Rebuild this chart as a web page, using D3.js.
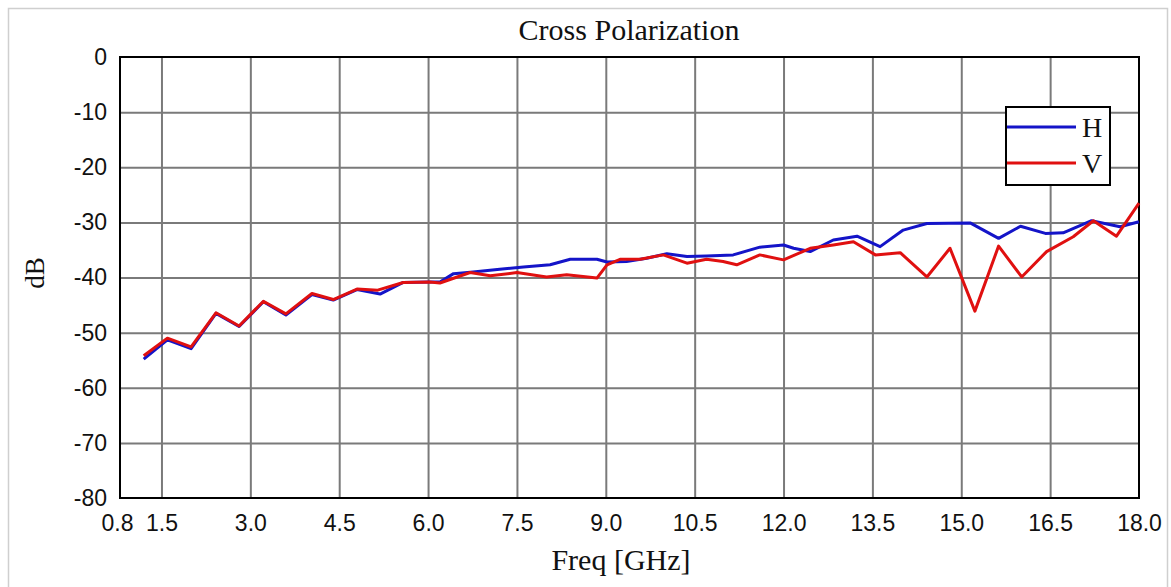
<!DOCTYPE html>
<html>
<head>
<meta charset="utf-8">
<script src="https://cdn.jsdelivr.net/npm/d3@7"></script>
<style>
  html, body { margin: 0; padding: 0; background: #ffffff; }
  svg { display: block; }
</style>
</head>
<body>
<svg id="chart" width="1171" height="587"></svg>
<script>
// ---- Data ----
const title = "Cross Polarization";
const xLabel = "Freq [GHz]";
const yLabel = "dB";
const seriesNames = ["H", "V"];
const xTicks = [0.8, 1.5, 3.0, 4.5, 6.0, 7.5, 9.0, 10.5, 12.0, 13.5, 15.0, 16.5, 18.0];
const yTicks = [0, -10, -20, -30, -40, -50, -60, -70, -80];

const freqH = [1.2, 1.6, 2.0, 2.42, 2.81, 3.22, 3.6, 4.04, 4.4, 4.8, 5.19, 5.58, 6.03, 6.2, 6.43, 6.76,
  7.21, 7.61, 8.06, 8.4, 8.85, 9.02, 9.35, 9.69, 10.03, 10.37, 10.7, 11.15, 11.6, 12.0, 12.17, 12.45,
  12.84, 13.24, 13.63, 14.02, 14.42, 15.15, 15.63, 16.0, 16.42, 16.72, 17.2, 17.68, 18.0];
const valuesH = [-54.8, -51.3, -52.9, -46.5, -48.9, -44.4, -46.8, -43.1, -44.1, -42.2, -43.0, -40.9, -40.8, -40.8, -39.3, -39.0,
  -38.5, -38.1, -37.7, -36.7, -36.7, -37.2, -37.1, -36.5, -35.7, -36.2, -36.1, -35.9, -34.5, -34.1, -34.7, -35.3,
  -33.2, -32.5, -34.4, -31.4, -30.2, -30.1, -32.9, -30.7, -32.0, -31.9, -29.7, -30.8, -29.9];

const freqV = [1.2, 1.6, 2.0, 2.42, 2.81, 3.22, 3.6, 4.04, 4.4, 4.8, 5.15, 5.58, 6.03, 6.2, 6.71, 7.05,
  7.5, 8.0, 8.34, 8.85, 9.02, 9.24, 9.58, 9.97, 10.37, 10.7, 10.98, 11.21, 11.6, 12.0, 12.45, 12.84,
  13.18, 13.55, 13.97, 14.42, 14.81, 15.23, 15.63, 16.02, 16.44, 16.89, 17.23, 17.62, 18.0];
const valuesV = [-54.2, -51.0, -52.6, -46.4, -48.8, -44.3, -46.6, -42.9, -44.0, -42.1, -42.3, -40.9, -40.8, -41.0, -39.1, -39.7,
  -39.1, -39.9, -39.5, -40.1, -37.7, -36.7, -36.7, -35.9, -37.4, -36.7, -37.1, -37.7, -35.9, -36.8, -34.7, -34.1,
  -33.5, -35.9, -35.5, -39.9, -34.7, -46.1, -34.3, -39.9, -35.3, -32.6, -29.7, -32.5, -26.5];

const colors = ["#1414c8", "#e01010"];

// ---- Layout ----
const svg = d3.select("#chart");
const plot = { left: 120, right: 1139, top: 57, bottom: 498 };

const x = d3.scaleLinear().domain([0.8, 18.0]).range([plot.left, plot.right]);
const y = d3.scaleLinear().domain([-80, 0]).range([plot.bottom, plot.top]);

// outer frame
svg.append("rect")
  .attr("x", 8.5).attr("y", 8.5).attr("width", 1159).attr("height", 600)
  .attr("fill", "none").attr("stroke", "#cfcfcf").attr("stroke-width", 1.5);

// grid via axes
const gridX = d3.axisBottom(x).tickValues(xTicks.slice(1, -1)).tickSize(-(plot.bottom - plot.top)).tickFormat("");
svg.append("g").attr("transform", `translate(0,${plot.bottom})`).call(gridX)
  .call(g => g.select(".domain").remove())
  .call(g => g.selectAll("line").attr("stroke", "#7a7a7a").attr("stroke-width", 2));

const gridY = d3.axisLeft(y).tickValues(yTicks.slice(1, -1)).tickSize(-(plot.right - plot.left)).tickFormat("");
svg.append("g").attr("transform", `translate(${plot.left},0)`).call(gridY)
  .call(g => g.select(".domain").remove())
  .call(g => g.selectAll("line").attr("stroke", "#7a7a7a").attr("stroke-width", 2));

// tick labels via axes
const axX = d3.axisBottom(x).tickValues(xTicks).tickSize(0).tickPadding(17).tickFormat(d3.format(".1f"));
svg.append("g").attr("transform", `translate(0,${plot.bottom})`).call(axX)
  .call(g => g.select(".domain").remove())
  .call(g => g.selectAll("text")
    .attr("font-family", "'Liberation Sans', Arial, sans-serif")
    .attr("font-size", 23).attr("fill", "#111")
    .attr("dx", d => d === 0.8 ? -3 : 0));

const axY = d3.axisLeft(y).tickValues(yTicks).tickSize(0).tickPadding(13).tickFormat(d => String(d));
svg.append("g").attr("transform", `translate(${plot.left},0)`).call(axY)
  .call(g => g.select(".domain").remove())
  .call(g => g.selectAll("text")
    .attr("font-family", "'Liberation Sans', Arial, sans-serif")
    .attr("font-size", 23).attr("fill", "#111"));

// plot border
svg.append("rect")
  .attr("x", plot.left).attr("y", plot.top)
  .attr("width", plot.right - plot.left).attr("height", plot.bottom - plot.top)
  .attr("fill", "none").attr("stroke", "#000").attr("stroke-width", 2);

// lines
const line = d3.line().x(d => x(d[0])).y(d => y(d[1]));
const series = [
  d3.zip(freqH, valuesH),
  d3.zip(freqV, valuesV)
];
series.forEach((s, i) => {
  svg.append("path").datum(s)
    .attr("d", line)
    .attr("fill", "none")
    .attr("stroke", colors[i])
    .attr("stroke-width", 3)
    .attr("stroke-linejoin", "round");
});

// title and axis labels
const serif = "'Liberation Serif', 'Times New Roman', serif";
svg.append("text").attr("x", 629).attr("y", 40).attr("text-anchor", "middle")
  .attr("font-family", serif).attr("font-size", 30).attr("fill", "#111").text(title);
svg.append("text").attr("x", 621).attr("y", 570).attr("text-anchor", "middle")
  .attr("font-family", serif).attr("font-size", 30).attr("fill", "#111").text(xLabel);
svg.append("text").attr("transform", "translate(44,273) rotate(-90)").attr("text-anchor", "middle")
  .attr("font-family", serif).attr("font-size", 27).attr("fill", "#111").text(yLabel);

// legend
const lg = svg.append("g");
lg.append("rect").attr("x", 1006).attr("y", 107).attr("width", 104).attr("height", 78)
  .attr("fill", "#ffffff").attr("stroke", "#000").attr("stroke-width", 2);
seriesNames.forEach((name, i) => {
  const yy = 127 + i * 36;
  lg.append("line").attr("x1", 1007).attr("x2", 1076).attr("y1", yy).attr("y2", yy)
    .attr("stroke", colors[i]).attr("stroke-width", 3);
  lg.append("text").attr("x", 1082).attr("y", yy + 10)
    .attr("font-family", serif).attr("font-size", 28).attr("fill", "#111").text(name);
});
</script>
</body>
</html>
